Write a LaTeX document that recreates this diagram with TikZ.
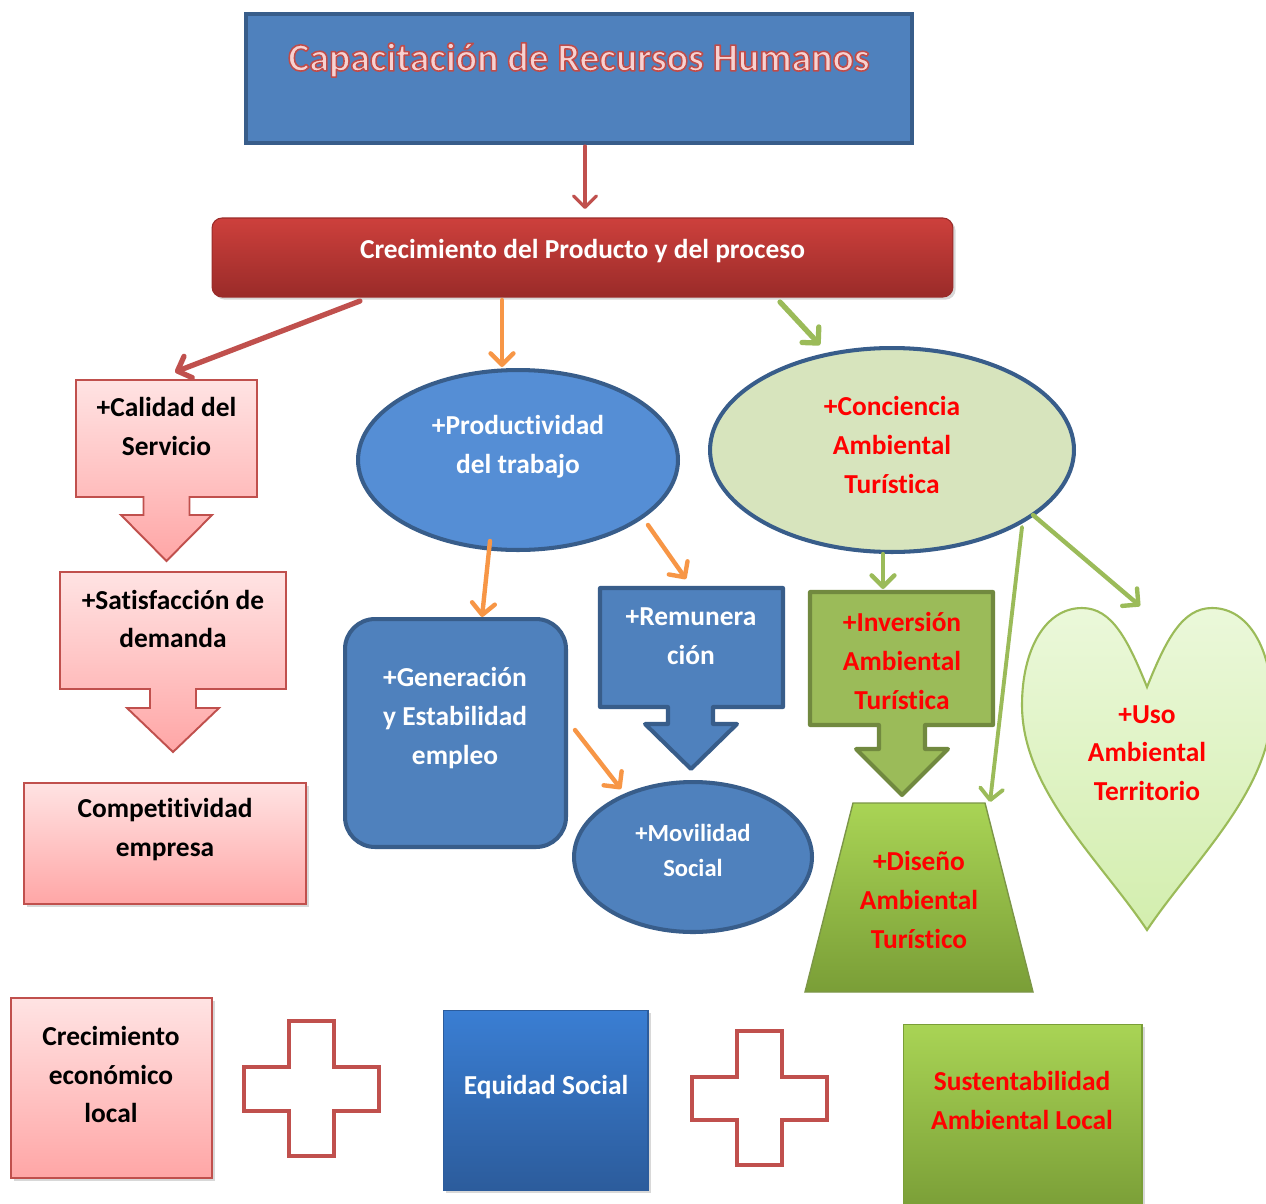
\documentclass[tikz,border=0pt]{standalone}
\usepackage{fontspec}
\setmainfont{Carlito}[Ligatures=NoCommon]
\usetikzlibrary{arrows.meta,shapes.geometric,shadows,calc}

\definecolor{bfill}{HTML}{4F81BD}
\definecolor{bdraw}{HTML}{385D8A}
\definecolor{pfill}{HTML}{558ED5}
\definecolor{rline}{HTML}{C0504D}
\definecolor{oline}{HTML}{F79646}
\definecolor{gline}{HTML}{9BBB59}
\definecolor{cfill}{HTML}{D7E4BD}
\definecolor{gdraw}{HTML}{71893F}
\definecolor{ptop}{HTML}{FFE3E3}
\definecolor{pbot}{HTML}{FFA6A6}
\definecolor{redtxt}{HTML}{FF0000}
\definecolor{tpink}{HTML}{F7D2D1}
\definecolor{crtop}{HTML}{CD403C}
\definecolor{crbot}{HTML}{9A2B29}
\definecolor{etop}{HTML}{3A7ED3}
\definecolor{ebot}{HTML}{2C5C9C}
\definecolor{gtop}{HTML}{A9D455}
\definecolor{gbot}{HTML}{7A9E37}
\definecolor{htop}{HTML}{EBF8DA}
\definecolor{hbot}{HTML}{D3EEAE}

% outlined text: fill pink, stroke red (text render mode 2)
\newcommand\outl[1]{\leavevmode{\color{tpink}%
 \special{pdf:code q 2 Tr 0.9 w 1 j 0.75 0.30 0.29 RG}#1\special{pdf:code Q}}}

\tikzset{
 lbl/.style={font=\fontsize{15.6}{22}\selectfont\bfseries, align=center, inner sep=0pt},
 lblsm/.style={font=\fontsize{14}{19.8}\selectfont\bfseries, align=center, inner sep=0pt},
 arr/.style={line width=2.5pt, line cap=round, -{Straight Barb[length=6.5pt,width=13pt,line cap=round,line join=round]}},
 shad/.style={drop shadow={shadow xshift=1.5pt, shadow yshift=-1.5pt, opacity=0.3}},
 pinkbox/.style={draw=rline, line width=1.1pt, top color=ptop, bottom color=pbot, inner sep=0pt},
 bluethick/.style={draw=bdraw, line width=2.3pt},
 plusshape/.style={draw=rline, line width=2.3pt, fill=white},
}

\begin{document}
\begin{tikzpicture}[x=0.02cm,y=-0.02cm]
\useasboundingbox (0,0) rectangle (1266,1203);
\fill[white] (0,0) rectangle (1266,1203);

% ---- title
\node[bluethick, fill=bfill, minimum width=13.32cm, minimum height=2.58cm, inner sep=0pt] (title) at (579,78.5) {};
\node[font=\fontsize{22.6}{27}\selectfont\bfseries, inner sep=0pt] (titletxt) at (579,60) {\outl{Capacitación de Recursos Humanos}};

% ---- crecimiento bar
\node[rounded corners=0.2cm, top color=crtop, bottom color=crbot, draw=crbot, line width=0.6pt, shad,
      minimum width=14.82cm, minimum height=1.58cm, inner sep=0pt] (crec) at (582.5,257.5) {};
\node[lbl, text=white] (crectxt) at (582.5,251) {Crecimiento del Producto y del proceso};

% ---- left pink column
\draw[pinkbox] (76,380) -- (257,380) -- (257,497) -- (189.5,497) -- (189.5,515) -- (212,515)
  -- (166.5,561) -- (121,515) -- (143.5,515) -- (143.5,497) -- (76,497) -- cycle;
\node[lbl] (cal) at (166.5,426.5) {+Calidad del\\Servicio};

\draw[pinkbox] (60,572) -- (286,572) -- (286,689) -- (196,689) -- (196,708) -- (219,708)
  -- (173,752) -- (127,708) -- (150,708) -- (150,689) -- (60,689) -- cycle;
\node[lbl] (sat) at (173,619) {+Satisfacción de\\demanda};

\node[pinkbox, shad, minimum width=5.64cm, minimum height=2.42cm] (compbox) at (165,843.5) {};
\node[lbl] (comp) at (165,829.5) {Competitividad\\empresa};

% ---- blue column
\node[ellipse, bluethick, fill=pfill, minimum width=6.4cm, minimum height=3.6cm, inner sep=0pt] (prod) at (518,460) {};
\node[lbl, text=white] (prodtxt) at (518,446.5) {+Productividad\\del trabajo};

\node[rounded corners=0.6cm, bluethick, fill=bfill, minimum width=4.42cm, minimum height=4.56cm, inner sep=0pt] (gen) at (455.5,733) {};
\node[lbl, text=white] (gentxt) at (455,718) {+Generación\\y Estabilidad\\empleo};

\draw[bluethick, fill=bfill, line join=round] (600,588) -- (783,588) -- (783,707) -- (713,707) -- (713,724) -- (737,724)
  -- (691,769) -- (645,724) -- (668,724) -- (668,707) -- (600,707) -- cycle;
\node[lbl, text=white] (rem) at (691,636.5) {+Remunera\\ción};

\node[ellipse, bluethick, fill=bfill, minimum width=4.76cm, minimum height=3.0cm, inner sep=0pt] (mov) at (693,857) {};
\node[lblsm, text=white] (movtxt) at (693,850.5) {+Movilidad\\Social};

% ---- green column
\node[ellipse, bluethick, fill=cfill, minimum width=7.28cm, minimum height=4.08cm, inner sep=0pt] (conc) at (892,450) {};
\node[lbl, text=redtxt] (conctxt) at (892,445) {+Conciencia\\Ambiental\\Turística};

\draw[draw=gdraw, line width=2.3pt, fill=gline, line join=round] (810,592) -- (993,592) -- (993,725) -- (925,725) -- (925,749) -- (948,749)
  -- (902,795) -- (856,749) -- (879,749) -- (879,725) -- (810,725) -- cycle;
\node[lbl, text=redtxt] (inv) at (902,661) {+Inversión\\Ambiental\\Turística};

\draw[draw=gline!80!black, line width=0.8pt, top color=gtop, bottom color=gbot]
  (853,803) -- (985,803) -- (1033,992) -- (805,992) -- cycle;
\node[lbl, text=redtxt] (dis) at (919,900) {+Diseño\\Ambiental\\Turístico};

\draw[draw=gline, line width=1.2pt, top color=htop, bottom color=hbot]
  (1147,687) .. controls (1128,640) and (1112,608) .. (1082,608)
  .. controls (1045,608) and (1022,650) .. (1022,705)
  .. controls (1022,790) and (1100,860) .. (1147,930)
  .. controls (1194,860) and (1272,790) .. (1272,705)
  .. controls (1272,650) and (1249,608) .. (1212,608)
  .. controls (1182,608) and (1166,640) .. (1147,687) -- cycle;
\node[lbl, text=redtxt] (uso) at (1147,753) {+Uso\\Ambiental\\Territorio};

% ---- bottom row
\node[pinkbox, shad, minimum width=4.02cm, minimum height=3.6cm] (cebox) at (111.5,1088) {};
\node[lbl] (ce) at (111,1074.5) {Crecimiento\\económico\\local};

\draw[plusshape] (289,1021) -- (334,1021) -- (334,1067) -- (379,1067) -- (379,1111) -- (334,1111)
  -- (334,1156) -- (289,1156) -- (289,1111) -- (244,1111) -- (244,1067) -- (289,1067) -- cycle;

\node[top color=etop, bottom color=ebot, draw=ebot, line width=0.6pt, shad, minimum width=4.1cm, minimum height=3.6cm, inner sep=0pt] (eqbox) at (545.5,1100) {};
\node[lbl, text=white] (eq) at (546,1087) {Equidad Social};

\draw[plusshape] (737,1031) -- (782,1031) -- (782,1077) -- (827,1077) -- (827,1120) -- (782,1120)
  -- (782,1165) -- (737,1165) -- (737,1120) -- (692,1120) -- (692,1077) -- (737,1077) -- cycle;

\node[top color=gtop, bottom color=gbot, draw=gbot, line width=0.6pt, shad, minimum width=4.78cm, minimum height=3.72cm, inner sep=0pt] (susbox) at (1022.5,1117) {};
\node[lbl, text=redtxt] (sus) at (1022,1100.5) {Sustentabilidad\\Ambiental Local};

% ---- connectors
\coordinate (a1s) at (585,146);  \coordinate (a1e) at (585,209);
\coordinate (a2s) at (360,301);  \coordinate (a2e) at (175,372);
\coordinate (a3s) at (502,300);  \coordinate (a3e) at (502,367);
\coordinate (a4s) at (780,302);  \coordinate (a4e) at (820,345);
\coordinate (a5s) at (490,541);  \coordinate (a5e) at (482,617);
\coordinate (a6s) at (648,525);  \coordinate (a6e) at (686,579);
\coordinate (a7s) at (575,730);  \coordinate (a7e) at (621,789);
\coordinate (a8s) at (883,554);  \coordinate (a8e) at (883,589);
\coordinate (a9s) at (1022,527); \coordinate (a9e) at (990,802);
\coordinate (a10s) at (1033,515); \coordinate (a10e) at (1140,606);

\draw[arr, rline, line width=1.8pt] (a1s) -- (a1e);
\draw[arr, rline, line width=3pt] (a2s) -- (a2e);
\draw[arr, oline] (a3s) -- (a3e);
\draw[arr, gline, line width=3pt] (a4s) -- (a4e);
\draw[arr, oline] (a5s) -- (a5e);
\draw[arr, oline] (a6s) -- (a6e);
\draw[arr, oline] (a7s) -- (a7e);
\draw[arr, gline] (a8s) -- (a8e);
\draw[arr, gline, line width=2.2pt] (a9s) -- (a9e);
\draw[arr, gline] (a10s) -- (a10e);
\end{tikzpicture}
\end{document}
